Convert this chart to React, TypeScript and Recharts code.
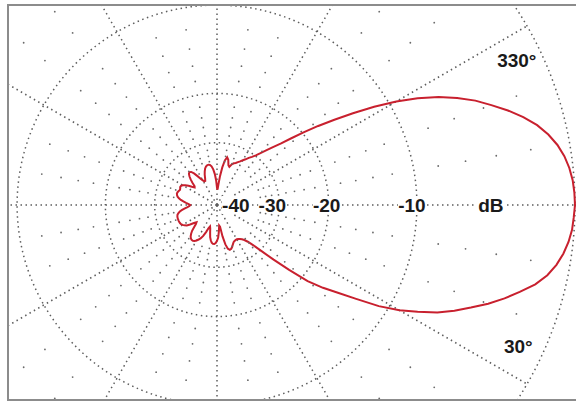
import React from "react";
import {
  RadarChart,
  Radar,
  PolarGrid,
  PolarAngleAxis,
  PolarRadiusAxis,
} from "recharts";

//========== Antenna Pattern (ARRL log polar scale) ===========

const W = 576;
const H = 402;
const CX = 217;
const CY = 205;
const OUTER_R = 358;

// relative gain in dB, every 2 degrees, clockwise from 0 deg (right)
const LOWER_HALF_DB = [
  0, -0.05, -0.1, -0.22, -0.4, -0.65, -1.0, -1.5, -2.2, -2.9,
  -3.7, -4.6, -5.5, -6.5, -7.8, -9.1, -10.8, -13.0, -15.0, -16.8,
  -19.0, -22.4, -26, -29.5, -32.5, -34.5, -35.8, -36.6, -37.2, -37.6,
  -37.8, -37.8, -37.6, -37.3, -36.6, -35.8, -35.2, -35.0, -35.6, -37.5,
  -41.5, -48, -49, -44.5, -41, -39.5, -38.5, -38, -38, -38.5,
  -39.5, -41, -43.5, -46, -47.5, -46, -43, -40.5, -39, -38,
  -37.2, -36.6, -36.3, -36.3, -36.6, -37.2, -38.2, -39.5, -41.5, -43.5,
  -44.5, -43, -40.8, -39.2, -38.3, -37.7, -37.3, -37.1, -37, -37,
  -37, -37, -37.1, -37.3, -37.8, -38.6, -39.8, -41.3, -42.8, -44,
];

// 180 .. 358 deg
const UPPER_HALF_DB = [
  -44.5, -43.5, -42, -40.5, -39.2, -38.2, -37.5, -37.1, -36.9, -37,
  -37.3, -37.6, -37.5, -37.2, -37.3, -37.8, -38.8, -40.2, -42, -43.5,
  -43, -41, -39.2, -37.8, -36.8, -36.4, -36.8, -38, -40, -42,
  -43.5, -44.5, -44.5, -43, -41, -39.5, -38.3, -37.6, -37.2, -37.1,
  -37.3, -38, -39.5, -42, -46, -52, -54, -49, -43, -38.5,
  -35.5, -34.2, -35, -37, -37.6, -36.3, -35.6, -35.2, -34.6, -34,
  -33.2, -32.5, -31.6, -30.8, -29.8, -28.6, -27.2, -25.6, -24, -22,
  -19.8, -17.6, -15.5, -13.4, -11.3, -9.4, -7.8, -6.4, -5.3, -4.3,
  -3.5, -2.7, -2.0, -1.4, -0.95, -0.6, -0.35, -0.18, -0.07, -0.02,
];

const PATTERN_DB = [...LOWER_HALF_DB, ...UPPER_HALF_DB];

const GRID_CIRCLE_DB = [-30, -20, -10, 0];
const GRID_ANGLES = [0, 30, 60, 90, 120, 150, 180, 210, 240, 270, 300, 330];
const MINOR_DOT_DB = [
  -2, -4, -6, -8, -12, -14, -16, -18, -22, -24, -26, -28, -32, -34, -36,
];

const RADIUS_TICK_DB = [-40, -30, -20, -10, -4.6];
const RADIUS_TICK_LABELS = ["-40", "-30", "-20", "-10", "dB"];
const RADIUS_TICK_DX = [-16, -7, -2, -5, 0];

const ANGLE_LABELS = [330, 30];
const ANGLE_LABEL_R = 333;

const FONT = "'Liberation Sans', Arial, sans-serif";

// ARRL scale: radius shrinks by 0.89 for every 2 dB
const arrl = (db: number) => Math.pow(0.89, -db / 2);

const data = PATTERN_DB.map((db, i) => ({ angle: i * 2, db }));

const GridDot = (props: any) => {
  const { cx, cy, payload } = props;
  const a = payload?.angle;
  if (a == null || a % 10 !== 0 || a % 30 === 0) return <g />;
  return <circle cx={cx} cy={cy} r={0.9} fill="#6a6a6a" />;
};

const RadiusTick = (props: any) => {
  const { x, y, payload } = props;
  const i = RADIUS_TICK_DB.findIndex(
    (db) => Math.abs(arrl(db) - payload.value) < 1e-6
  );
  if (i < 0) return <g />;
  const tx = x + RADIUS_TICK_DX[i];
  return (
    <g>
      <rect x={tx - 14} y={y - 9} width={28} height={18} fill="#fff" />
      <text
        x={tx}
        y={y}
        textAnchor="middle"
        dominantBaseline="central"
        fontFamily={FONT}
        fontSize={19}
        fontWeight="bold"
        fill="#1a1a1a"
      >
        {RADIUS_TICK_LABELS[i]}
      </text>
    </g>
  );
};

const AngleTick = (props: any) => {
  const a = Number(props.payload?.value);
  if (!ANGLE_LABELS.includes(a)) return <g />;
  const t = ((a + (a > 180 ? 4.2 : -4.8)) * Math.PI) / 180;
  return (
    <text
      x={CX + ANGLE_LABEL_R * Math.cos(t)}
      y={CY + ANGLE_LABEL_R * Math.sin(t)}
      textAnchor="middle"
      dominantBaseline="central"
      fontFamily={FONT}
      fontSize={19}
      fontWeight="bold"
      fill="#1a1a1a"
    >
      {`${a}°`}
    </text>
  );
};

const App: React.FC = () => {
  return (
    <div
      style={{
        position: "absolute",
        left: 0,
        top: 0,
        width: W,
        height: H,
        background: "#fff",
      }}
    >
      {/* ====== Frame ====== */}
      <div
        style={{
          position: "absolute",
          left: 7,
          top: 4,
          width: W,
          height: 397,
          boxSizing: "border-box",
          border: "2px solid #8c8c8c",
          overflow: "hidden",
        }}
      >
        <div style={{ position: "absolute", left: -9, top: -6 }}>
          <RadarChart
            width={W}
            height={H}
            data={data}
            cx={CX}
            cy={CY}
            outerRadius={OUTER_R}
            startAngle={0}
            endAngle={-360}
            margin={{ top: 0, right: 0, bottom: 0, left: 0 }}
          >
            <PolarGrid
              gridType="circle"
              polarAngles={GRID_ANGLES}
              polarRadius={GRID_CIRCLE_DB.map((db) => OUTER_R * arrl(db))}
              stroke="#5e5e5e"
              strokeWidth={1.5}
              strokeDasharray="1.5 3.5"
            />
            <PolarAngleAxis
              dataKey="angle"
              axisLine={false}
              tickLine={false}
              tick={AngleTick}
            />
            <PolarRadiusAxis
              angle={0}
              domain={[0, 1]}
              ticks={RADIUS_TICK_DB.map(arrl) as any}
              axisLine={false}
              tick={RadiusTick}
            />
            {MINOR_DOT_DB.map((db) => (
              <Radar
                key={db}
                dataKey={() => arrl(db)}
                stroke="none"
                fill="none"
                dot={GridDot}
                isAnimationActive={false}
              />
            ))}
            <Radar
              dataKey={(d: any) => arrl(d.db)}
              stroke="#c8202e"
              strokeWidth={2}
              fill="none"
              fillOpacity={0}
              dot={false}
              isAnimationActive={false}
            />
          </RadarChart>
        </div>
      </div>
    </div>
  );
};

export default App;
